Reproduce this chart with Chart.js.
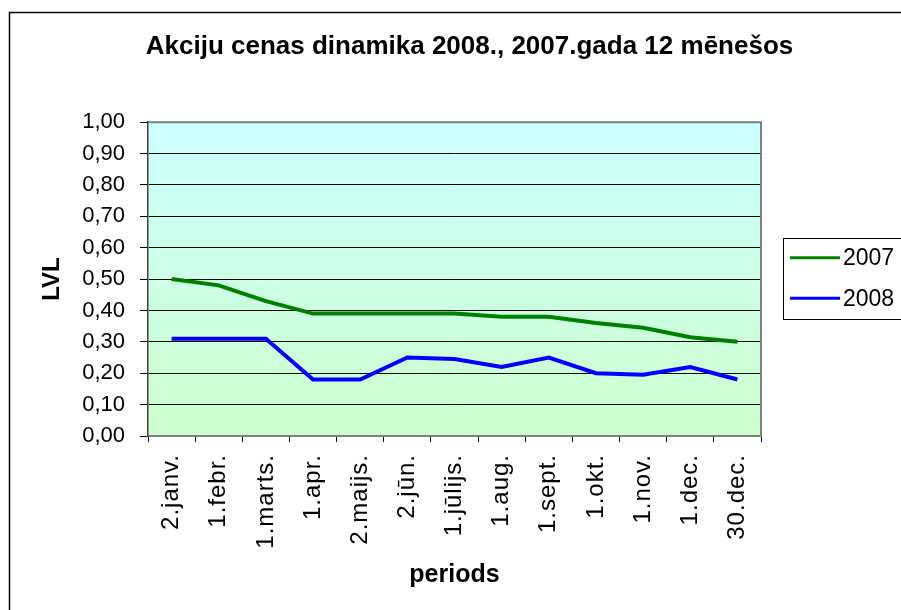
<!DOCTYPE html>
<html>
<head>
<meta charset="utf-8">
<script src="https://cdn.jsdelivr.net/npm/chart.js@4.4.1/dist/chart.umd.min.js"></script>
<style>
  html, body { margin: 0; padding: 0; background: #fff; }
  canvas { display: block; }
</style>
</head>
<body>
<canvas id="c" width="901" height="610"></canvas>
<script>
// ---- data ----
const categories = ['2.janv.', '1.febr.', '1.marts.', '1.apr.', '2.maijs.', '2.jūn.', '1.jūlijs.', '1.aug.', '1.sept.', '1.okt.', '1.nov.', '1.dec.', '30.dec.'];
const values2007 = [0.50, 0.48, 0.43, 0.39, 0.39, 0.39, 0.39, 0.38, 0.38, 0.36, 0.345, 0.315, 0.30];
const values2008 = [0.31, 0.31, 0.31, 0.18, 0.18, 0.25, 0.245, 0.22, 0.25, 0.20, 0.195, 0.22, 0.18];
const seriesNames = ['2007', '2008'];
const titleText = 'Akciju cenas dinamika 2008., 2007.gada 12 mēnešos';
const xTitle = 'periods';
const yTitle = 'LVL';

const FONT = "'Liberation Sans', Arial, sans-serif";
Chart.defaults.color = '#000';
Chart.defaults.font.family = FONT;

const decoPlugin = {
  id: 'deco',
  beforeDraw(chart) {
    const {ctx, chartArea: a} = chart;
    // slightly spaced x labels (as in the reference)
    const sx = chart.scales.x;
    if (sx && !sx.__ls) {
      const orig = sx.drawLabels.bind(sx);
      sx.drawLabels = function (area) {
        const c = this.ctx;
        c.save();
        c.letterSpacing = '1px';
        orig(area);
        c.restore();
      };
      sx.__ls = true;
    }
    ctx.save();
    const g = ctx.createLinearGradient(0, a.top, 0, a.bottom);
    g.addColorStop(0, '#CCFFFF');
    g.addColorStop(1, '#CCFFCC');
    ctx.fillStyle = g;
    ctx.fillRect(a.left, a.top, a.right - a.left, a.bottom - a.top);
    ctx.restore();
  },
  afterDraw(chart) {
    const {ctx, chartArea: a} = chart;
    ctx.save();
    // outer frame
    ctx.strokeStyle = '#000';
    ctx.lineWidth = 1.5;
    ctx.strokeRect(9.5, 12.5, chart.width + 20, chart.height + 20);
    // plot frame (top/right)
    ctx.strokeStyle = '#808080';
    ctx.lineWidth = 2;
    ctx.beginPath();
    ctx.moveTo(a.left, a.top);
    ctx.lineTo(a.right, a.top);
    ctx.lineTo(a.right, a.bottom);
    ctx.stroke();
    // legend
    const bx = a.right + 22;
    const cy = (a.top + a.bottom) / 2;
    const bh = 81;
    const by = cy - bh / 2 - 1;
    ctx.strokeStyle = '#000';
    ctx.lineWidth = 1;
    ctx.strokeRect(Math.round(bx) + 0.5, Math.round(by) + 0.5, 140, bh);
    ctx.font = '23px ' + FONT;
    ctx.textBaseline = 'middle';
    ctx.textAlign = 'left';
    chart.data.datasets.forEach((ds, i) => {
      const y = by + bh * (i * 2 + 1) / 4;
      ctx.strokeStyle = ds.borderColor;
      ctx.lineWidth = 3;
      ctx.beginPath();
      ctx.moveTo(bx + 7, y);
      ctx.lineTo(bx + 57, y);
      ctx.stroke();
      ctx.fillStyle = '#000';
      ctx.fillText(ds.label, bx + 60, y + 1);
    });
    ctx.restore();
  }
};

new Chart(document.getElementById('c'), {
  type: 'line',
  data: {
    labels: categories,
    datasets: [
      { label: seriesNames[0], data: values2007, borderColor: '#008000', backgroundColor: '#008000', borderWidth: 4, pointRadius: 0, tension: 0, yAxisID: 'y' },
      { label: seriesNames[1], data: values2008, borderColor: '#0000FF', backgroundColor: '#0000FF', borderWidth: 4, pointRadius: 0, tension: 0, yAxisID: 'y' }
    ]
  },
  options: {
    responsive: false,
    animation: false,
    devicePixelRatio: 1,
    layout: { padding: { left: 38, right: 0, top: 0, bottom: 0 } },
    plugins: {
      legend: { display: false },
      tooltip: { enabled: false },
      title: {
        display: true,
        text: titleText,
        color: '#000',
        font: { family: FONT, size: 26, weight: 'bold' },
        padding: { top: 31, bottom: 60 }
      }
    },
    scales: {
      x: {
        offset: true,
        afterFit: (s) => { s.height = 174; },
        grid: { display: true, drawOnChartArea: false, offset: true, tickLength: 6, color: '#000' },
        border: { display: true, color: '#808080', width: 2 },
        ticks: { autoSkip: false, minRotation: 90, maxRotation: 90, padding: 12, color: '#000', font: { family: FONT, size: 24 } },
        title: { display: true, text: xTitle, color: '#000', font: { family: FONT, size: 25, weight: 'bold' }, padding: { top: 0, bottom: 20 } }
      },
      y: {
        min: 0,
        max: 1,
        afterFit: (s) => { s.width = 110; },
        grid: { color: '#000', lineWidth: 1, tickLength: 8 },
        border: { display: true, color: '#404040', width: 1.5 },
        ticks: {
          stepSize: 0.1,
          padding: 15,
          color: '#000',
          font: { family: FONT, size: 22 },
          callback: (v) => Number(v).toFixed(2).replace('.', ',')
        },
        title: { display: true, text: yTitle, color: '#000', font: { family: FONT, size: 24, weight: 'bold' }, padding: { top: 0, bottom: 0 } }
      },
      yR: {
        position: 'right',
        display: true,
        afterFit: (s) => { s.width = 140; },
        grid: { display: false },
        border: { display: false },
        ticks: { display: false }
      }
    }
  },
  plugins: [decoPlugin]
});
</script>
</body>
</html>
